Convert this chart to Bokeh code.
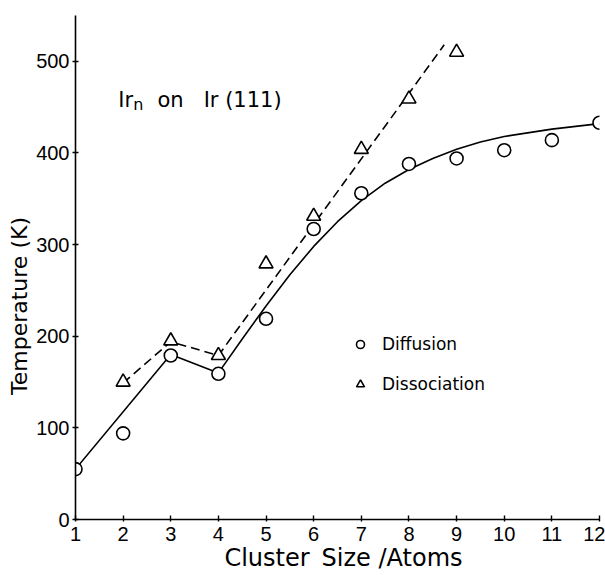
from bokeh.plotting import figure
from bokeh.models import Range1d, FixedTicker, Label, Legend, LegendItem
from bokeh.embed import file_html
from bokeh.resources import INLINE

# --- data ---
cluster_size = [1, 2, 3, 4, 5, 6, 7, 8, 9, 10, 11, 12]
diffusion_T = [55, 94, 179, 159, 219, 317, 356, 388, 394, 403, 414, 433]

dissoc_size = [2, 3, 4, 5, 6, 7, 8, 9]
dissoc_T = [150, 195, 179, 279, 331, 404, 459, 510]

# hand-drawn guide curves
diff_curve_x = [1, 3, 4, 4.5, 5, 5.5, 6, 6.5, 7, 7.5, 8, 8.5, 9, 9.5, 10, 11, 12]
diff_curve_y = [55, 180, 160, 197, 233, 267, 298, 325, 348, 367, 382, 394, 404, 412, 418, 426, 432]

dissoc_curve_x = [2, 3, 4, 8.74]
dissoc_curve_y = [149, 194, 179, 518]

x_ticks = [1, 2, 3, 4, 5, 6, 7, 8, 9, 10, 11, 12]
y_ticks = [0, 100, 200, 300, 400, 500]

FONT = "DejaVu Sans"
NUMFONT = "Liberation Sans"

p = figure(width=605, height=575, output_backend="svg", toolbar_location=None,
           x_range=Range1d(1, 12), y_range=Range1d(0, 550),
           min_border_left=75, min_border_right=6, min_border_top=15, min_border_bottom=56)
p.outline_line_color = None
p.xgrid.visible = False
p.ygrid.visible = False
p.background_fill_color = "white"

# axes styling
for ax in (p.xaxis[0], p.yaxis[0]):
    ax.axis_line_color = "black"
    ax.axis_line_width = 1.6
    ax.major_tick_line_color = "black"
    ax.major_tick_line_width = 1.4
    ax.minor_tick_line_color = None
    ax.major_label_text_font = NUMFONT
    ax.major_label_text_font_size = "20px"
    ax.major_label_text_color = "black"
    ax.axis_label_text_font = FONT
    ax.axis_label_text_font_style = "normal"
    ax.axis_label_text_color = "black"

p.xaxis.ticker = FixedTicker(ticks=x_ticks)
p.yaxis.ticker = FixedTicker(ticks=y_ticks)
p.xaxis.major_tick_in = 4
p.xaxis.major_tick_out = 2
p.yaxis.major_tick_in = 3
p.yaxis.major_tick_out = 3
p.xaxis.major_label_standoff = 5
p.yaxis.major_label_standoff = 3
p.xaxis.axis_label = "\u2002Cluster\u2002Size /Atoms"
p.xaxis.axis_label_text_font_size = "24px"
p.xaxis.axis_label_standoff = 0
# trailing spaces push the title down, as it sits below centre in the reference
p.yaxis.axis_label = "Temperature (K)\u2003\u2003\u2003\u2002"
p.yaxis.axis_label_text_font_size = "22px"
p.yaxis.axis_label_standoff = 1

# guide lines
p.line(diff_curve_x, diff_curve_y, line_color="black", line_width=1.6)
p.line(dissoc_curve_x, dissoc_curve_y, line_color="black", line_width=1.6, line_dash="9 5")

# markers
r_circ = p.scatter(cluster_size, diffusion_T, marker="circle", size=13,
                   fill_color="white", line_color="black", line_width=1.6)
r_tri = p.scatter(dissoc_size, dissoc_T, marker="triangle", size=14,
                  fill_color="white", line_color="black", line_width=1.6)

legend = Legend(items=[LegendItem(label="Diffusion", renderers=[r_circ]),
                       LegendItem(label="Dissociation", renderers=[r_tri])],
                location=(275, 125), orientation="vertical",
                label_text_font=FONT, label_text_font_size="17px",
                label_text_color="black",
                glyph_width=20, glyph_height=20, label_height=20,
                label_standoff=12, spacing=20, padding=0, margin=0,
                border_line_color=None, background_fill_alpha=0)
p.add_layout(legend, "center")

# annotation "Ir_n on Ir (111)"
p.add_layout(Label(x=1.90, y=458, text="Ir", text_font=FONT, text_font_size="21px",
                   text_baseline="alphabetic", text_align="left", text_color="black"))
p.add_layout(Label(x=2.21, y=453, text="n", text_font=FONT, text_font_size="16px",
                   text_baseline="alphabetic", text_align="left", text_color="black"))
p.add_layout(Label(x=2.72, y=458, text="on", text_font=FONT, text_font_size="21px",
                   text_baseline="alphabetic", text_align="left", text_color="black"))
p.add_layout(Label(x=3.69, y=458, text="Ir (111)", text_font=FONT, text_font_size="21px",
                   text_baseline="alphabetic", text_align="left", text_color="black"))

open("out.html", "w").write(file_html(p, INLINE))
